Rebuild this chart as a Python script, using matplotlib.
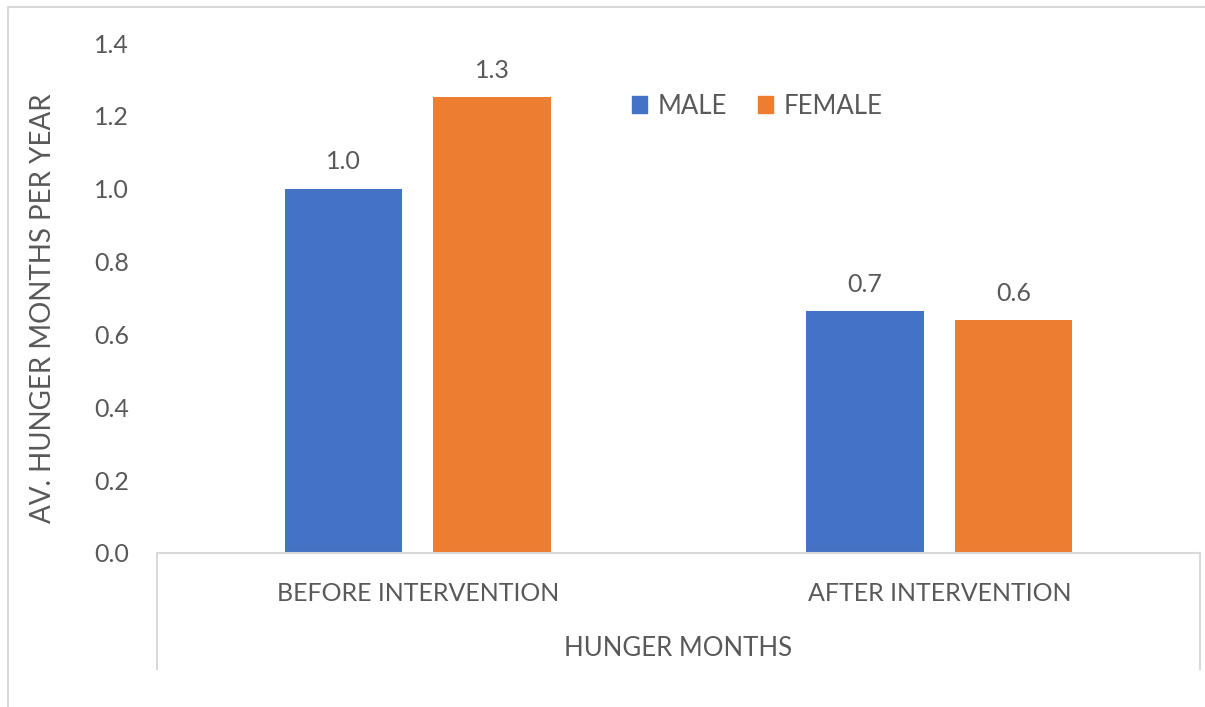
import matplotlib
matplotlib.use("Agg")
import matplotlib.pyplot as plt
from matplotlib.lines import Line2D
from matplotlib.patches import Patch
import numpy as np

categories = ["BEFORE INTERVENTION", "AFTER INTERVENTION"]
series_names = ["MALE", "FEMALE"]
male = [1.0, 0.664]
female = [1.252, 0.640]
male_labels = ["1.0", "0.7"]
female_labels = ["1.3", "0.6"]
yticks = [0.0, 0.2, 0.4, 0.6, 0.8, 1.0, 1.2, 1.4]

BLUE = "#4472C4"
ORANGE = "#ED7D31"
TXT = "#595959"
GRID = "#D9D9D9"

plt.rcParams['font.family'] = ['Lato', 'DejaVu Sans']

W, H = 1205, 707
fig = plt.figure(figsize=(W / 100, H / 100), dpi=100)
ax = fig.add_axes([157 / W, 1 - 553 / H, (1200 - 157) / W, (553 - 43) / H])

x = np.arange(len(categories))
bw = 0.225
off = 0.1425
b1 = ax.bar(x - off, male, bw, color=BLUE, label=series_names[0])
b2 = ax.bar(x + off, female, bw, color=ORANGE, label=series_names[1])

for rects, labs in ((b1, male_labels), (b2, female_labels)):
    for r, lab in zip(rects, labs):
        ax.annotate(lab, (r.get_x() + r.get_width() / 2, r.get_height()),
                    xytext=(0, 11), textcoords="offset points",
                    ha="center", va="bottom", fontsize=18, color=TXT)

ax.set_xlim(-0.5, len(categories) - 0.5)
ax.set_ylim(0, 1.4)
ax.set_yticks(yticks)
ax.set_yticklabels([f"{v:.1f}" for v in yticks])
ax.set_xticks(x)
ax.set_xticklabels(categories)

for s in ("left", "right", "top"):
    ax.spines[s].set_visible(False)
ax.spines["bottom"].set_color(GRID)
ax.spines["bottom"].set_linewidth(1.5)

ax.tick_params(axis="y", length=0, pad=20, labelsize=18, labelcolor=TXT)
ax.tick_params(axis="x", length=0, pad=21, labelsize=18, labelcolor=TXT)

ax.set_ylabel("AV. HUNGER MONTHS PER YEAR", fontsize=20, color=TXT)
ax.yaxis.set_label_coords((56 - 157) / 1043, (553 - 308) / 510)
ax.set_xlabel("HUNGER MONTHS", fontsize=18.5, color=TXT, labelpad=22)

# multi-level category separators
sep = 116 / 510
for xa in (0, 1):
    ax.add_line(Line2D([xa, xa], [0, -sep], transform=ax.transAxes,
                       color=GRID, lw=1.5, clip_on=False))

# chart border
fig.add_artist(Line2D([8 / W, 8 / W], [0, 1 - 7 / H], transform=fig.transFigure,
                      color=GRID, lw=1.5))
fig.add_artist(Line2D([8 / W, 1], [1 - 7 / H, 1 - 7 / H], transform=fig.transFigure,
                      color=GRID, lw=1.5))

handles = [Patch(facecolor=BLUE, edgecolor=BLUE), Patch(facecolor=ORANGE, edgecolor=ORANGE)]
leg = fig.legend(handles, series_names, loc="center", bbox_to_anchor=(757 / W, 1 - 106 / H),
                 ncol=2, frameon=False, fontsize=18.5, handlelength=0.6, handleheight=0.6,
                 handletextpad=0.4, columnspacing=1.2)
for t in leg.get_texts():
    t.set_color(TXT)

fig.savefig("out.png", dpi=100)
